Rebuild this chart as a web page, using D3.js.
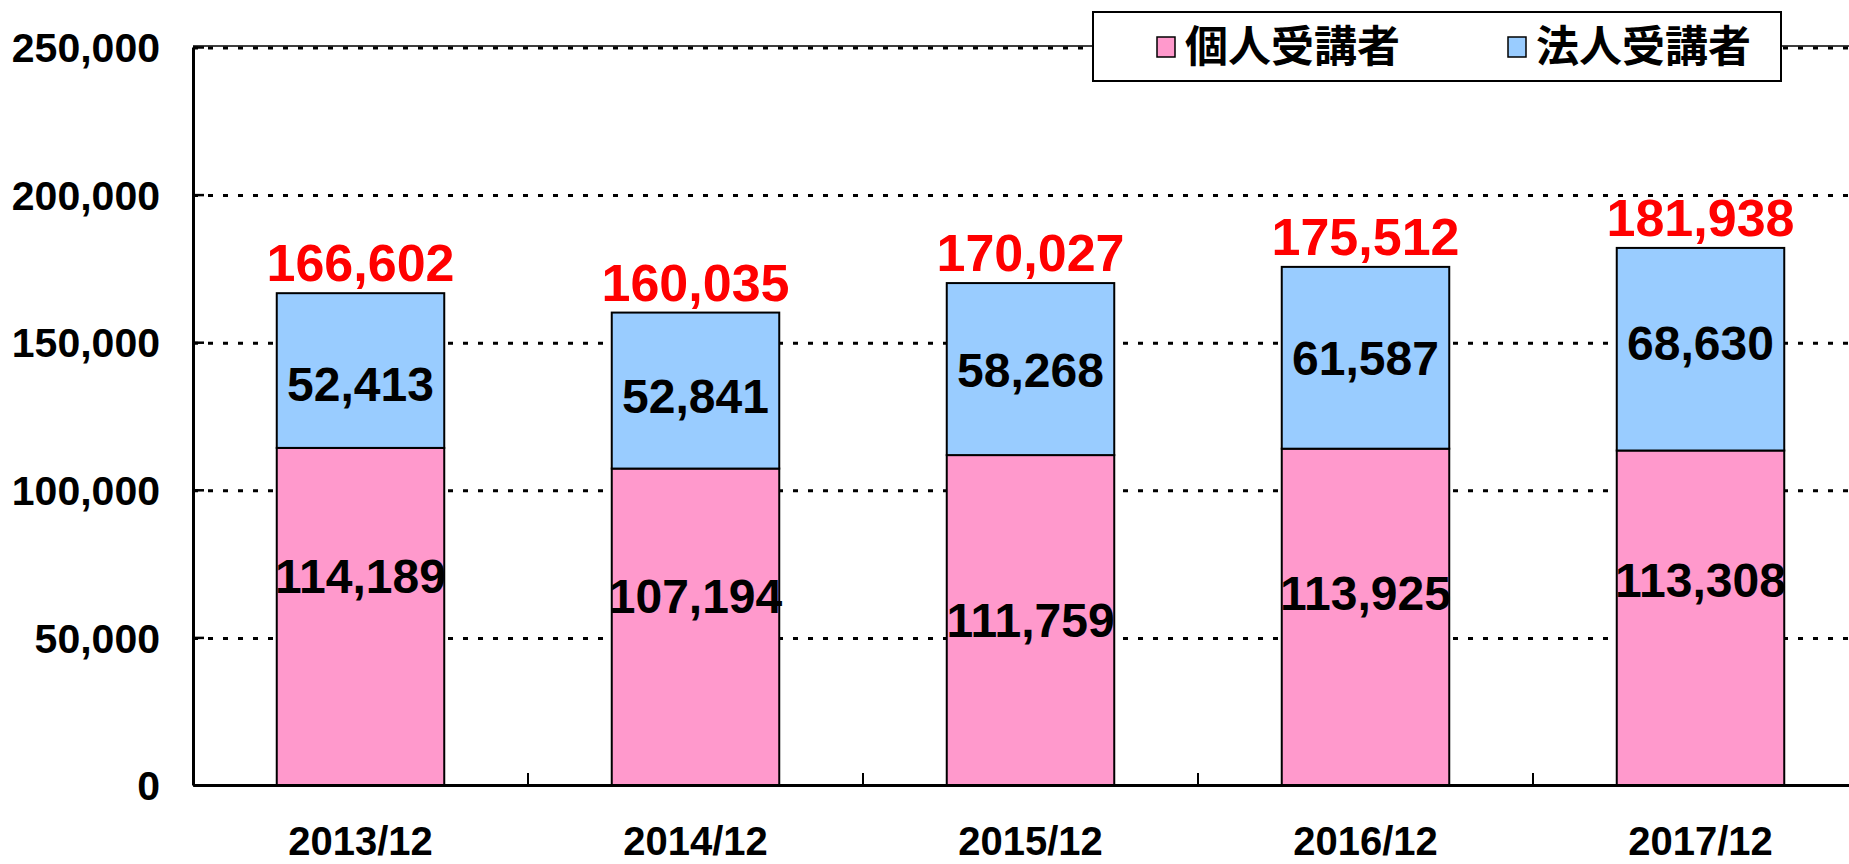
<!DOCTYPE html>
<html>
<head>
<meta charset="utf-8">
<script src="https://cdn.jsdelivr.net/npm/d3@7"></script>
<style>
  html, body { margin: 0; padding: 0; background: #fff; }
  svg { display: block; }
  text { font-family: "Liberation Sans", Arial, sans-serif; font-weight: bold; }
</style>
</head>
<body>
<div id="chart"></div>
<script>
// data
var categories = ['2013/12', '2014/12', '2015/12', '2016/12', '2017/12'];
var individual = [114189, 107194, 111759, 113925, 113308];
var corporate  = [52413, 52841, 58268, 61587, 68630];
var totals     = [166602, 160035, 170027, 175512, 181938];
var yTicks     = [0, 50000, 100000, 150000, 200000, 250000];
var seriesNames = ['個人受講者', '法人受講者'];

// label nudges (px), the original has hand-placed labels
var pinkNudge = [-41, -31, 0, -24, -38];
var blueNudge = [13, 5, 1, 0, -6];

var width = 1849, height = 864;
var colors = ['#FF99CC', '#99CCFF'];

var svg = d3.select('#chart').append('svg')
  .attr('width', width)
  .attr('height', height);

var x = d3.scaleBand().domain(categories).range([193, 1868]);
var y = d3.scaleLinear().domain([0, 250000]).range([785, 47]);

var rows = categories.map(function (c, i) {
  return { cat: c, individual: individual[i], corporate: corporate[i] };
});
var stack = d3.stack().keys(['individual', 'corporate'])(rows);

// gridlines
svg.append('g').selectAll('line')
  .data(yTicks.filter(function (d) { return d > 0 }))
  .enter().append('line')
  .attr('x1', 193).attr('x2', 1868)
  .attr('y1', function (d) { return y(d) + 1 })
  .attr('y2', function (d) { return y(d) + 1 })
  .attr('stroke', '#000')
  .attr('stroke-width', 3)
  .attr('stroke-dasharray', '5,10');

// top frame line
svg.append('line')
  .attr('x1', 193).attr('x2', 1868)
  .attr('y1', y(250000) - 1).attr('y2', y(250000) - 1)
  .attr('stroke', '#000').attr('stroke-width', 1.5);

// bars
var bw = x.bandwidth() * 0.5;
svg.append('g').selectAll('g')
  .data(stack)
  .enter().append('g')
  .attr('fill', function (d, i) { return colors[i] })
  .selectAll('rect')
  .data(function (d) { return d })
  .enter().append('rect')
  .attr('x', function (d) { return x(d.data.cat) + (x.bandwidth() - bw) / 2 })
  .attr('y', function (d) { return y(d[1]) })
  .attr('width', bw)
  .attr('height', function (d) { return y(d[0]) - y(d[1]) })
  .attr('stroke', '#000')
  .attr('stroke-width', 2);

// y axis
var yAxis = d3.axisLeft(y)
  .tickValues(yTicks)
  .tickFormat(d3.format(','))
  .tickSizeInner(-11)
  .tickSizeOuter(0)
  .tickPadding(33);

var gy = svg.append('g')
  .attr('transform', 'translate(193,0)')
  .call(yAxis);
gy.select('.domain').attr('stroke', '#000').attr('stroke-width', 3);
gy.selectAll('.tick line').attr('stroke', '#000').attr('stroke-width', 2.5);
gy.selectAll('.tick text')
  .attr('fill', '#000')
  .style('font-size', '41px')
  .style('font-family', '"Liberation Sans", Arial, sans-serif')
  .style('font-weight', 'bold')
  .attr('dy', '0.36em');

// x axis
var xAxis = d3.axisBottom(x).tickSize(0).tickPadding(42);
var gx = svg.append('g')
  .attr('transform', 'translate(0,785)')
  .call(xAxis);
gx.select('.domain').attr('stroke', '#000').attr('stroke-width', 3);
gx.selectAll('.tick text')
  .attr('fill', '#000')
  .style('font-size', '40px')
  .style('font-family', '"Liberation Sans", Arial, sans-serif')
  .style('font-weight', 'bold');

// category boundary ticks
svg.append('g').selectAll('line')
  .data(categories.slice(1))
  .enter().append('line')
  .attr('x1', function (d) { return x(d) })
  .attr('x2', function (d) { return x(d) })
  .attr('y1', 785).attr('y2', 773)
  .attr('stroke', '#000').attr('stroke-width', 2);

// value labels inside bars
svg.append('g').selectAll('text')
  .data(stack[0])
  .enter().append('text')
  .attr('x', function (d) { return x(d.data.cat) + x.bandwidth() / 2 })
  .attr('y', function (d, i) { return (y(d[0]) + y(d[1])) / 2 + pinkNudge[i] })
  .attr('dy', '0.36em')
  .attr('text-anchor', 'middle')
  .style('font-size', '48px')
  .text(function (d) { return d3.format(',')(d[1] - d[0]) });

svg.append('g').selectAll('text')
  .data(stack[1])
  .enter().append('text')
  .attr('x', function (d) { return x(d.data.cat) + x.bandwidth() / 2 })
  .attr('y', function (d, i) { return (y(d[0]) + y(d[1])) / 2 + blueNudge[i] })
  .attr('dy', '0.36em')
  .attr('text-anchor', 'middle')
  .style('font-size', '48px')
  .text(function (d) { return d3.format(',')(d[1] - d[0]) });

// totals
svg.append('g').selectAll('text')
  .data(totals)
  .enter().append('text')
  .attr('x', function (d, i) { return x(categories[i]) + x.bandwidth() / 2 })
  .attr('y', function (d) { return y(d) - 12 })
  .attr('text-anchor', 'middle')
  .attr('fill', '#FF0000')
  .style('font-size', '52px')
  .text(function (d) { return d3.format(',')(d) });

// legend
var legend = svg.append('g');
legend.append('rect')
  .attr('x', 1093).attr('y', 12)
  .attr('width', 688).attr('height', 69)
  .attr('fill', '#fff')
  .attr('stroke', '#000').attr('stroke-width', 2);

var legendX = [1157, 1508];
seriesNames.forEach(function (name, i) {
  legend.append('rect')
    .attr('x', legendX[i]).attr('y', 37)
    .attr('width', 18).attr('height', 20)
    .attr('fill', colors[i])
    .attr('stroke', '#000').attr('stroke-width', 1.5);
  legend.append('text')
    .attr('x', legendX[i] + 28).attr('y', 47)
    .attr('dy', '0.36em')
    .style('font-family', '"Noto Sans CJK JP", sans-serif')
    .style('font-weight', 'bold')
    .style('font-size', '43px')
    .text(name);
});
</script>
</body>
</html>
